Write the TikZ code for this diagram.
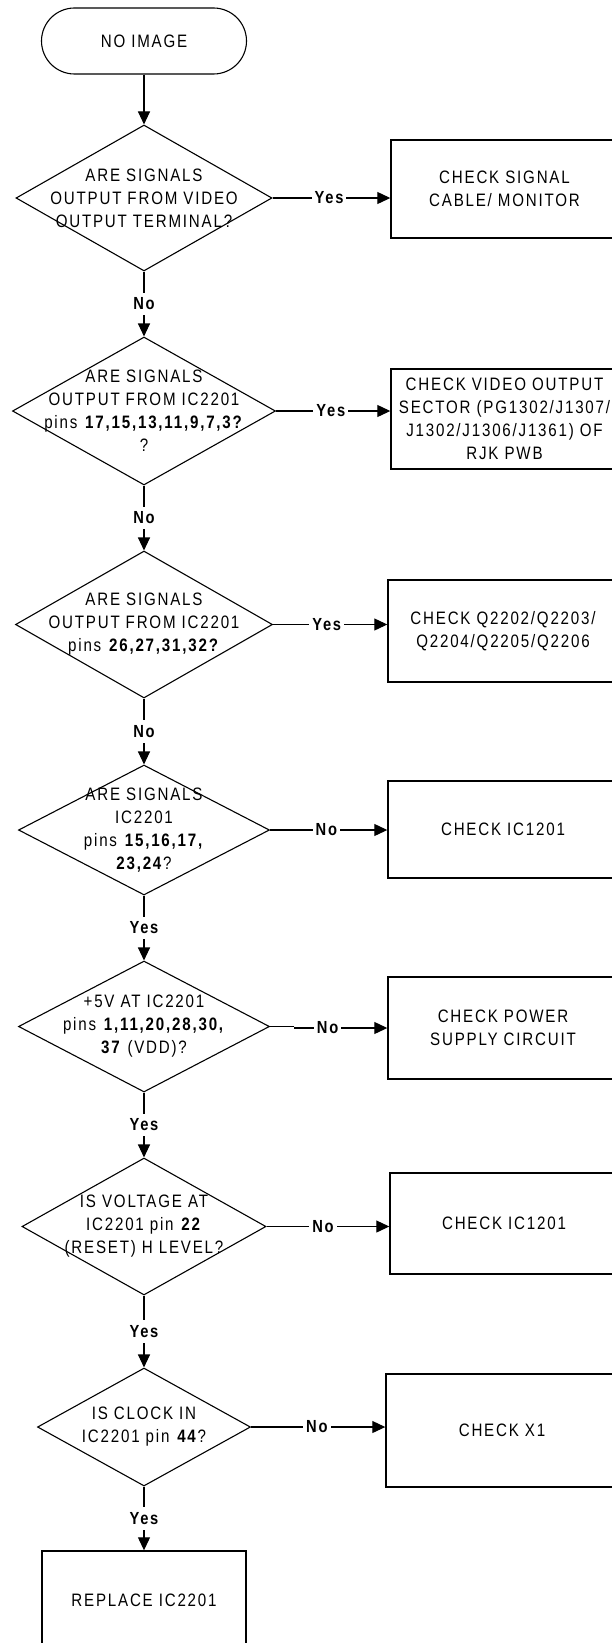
\documentclass[tikz,border=0pt]{standalone}
\usepackage{fontspec}
\setmainfont{Liberation Sans}[FakeStretch=0.84, LetterSpace=10]
\usetikzlibrary{shapes.geometric,arrows.meta}
\newcommand{\mainf}{\fontsize{18}{23}\selectfont}
\newcommand{\lblf}{\bfseries\fontsize{17.5}{20}\selectfont}
\begin{document}
\begin{tikzpicture}[x=1pt,y=-1pt,
  ln/.style={line width=1.1pt},
  dia/.style={draw, diamond, inner sep=0pt, line width=1.1pt},
  boxs/.style={draw, rectangle, line width=1.4pt, inner sep=0pt, align=center, font=\mainf},
  term/.style={draw, rectangle, rounded corners=33pt, line width=1.1pt, minimum width=205pt, minimum height=66pt, font=\mainf},
  txt/.style={align=center, inner sep=0pt, font=\mainf},
  lbl/.style={fill=white, inner xsep=3pt, inner ysep=5pt, font=\lblf},
  arr/.style={ln, -{Triangle[length=13pt,width=12pt]}}
]
\useasboundingbox (0,0) rectangle (611,1643);

% main column
\node[term] (t) at (144,41) {NO IMAGE};

\node[dia, minimum width=256pt, minimum height=146pt] (d1) at (144,198) {};
\node[txt] (d1t) at (d1.center) {ARE SIGNALS\\OUTPUT FROM VIDEO\\OUTPUT TERMINAL?};

\node[dia, minimum width=263pt, minimum height=148pt] (d2) at (144,411) {};
\node[txt] (d2t) at (d2.center) {ARE SIGNALS\\OUTPUT FROM IC2201\\pins \textbf{17,15,13,11,9,7,3?}\\?};

\node[dia, minimum width=257pt, minimum height=147pt] (d3) at (144,624.5) {};
\node[txt] (d3t) at (d3.center) {ARE SIGNALS\\OUTPUT FROM IC2201\\pins \textbf{26,27,31,32?}};

\node[dia, minimum width=251pt, minimum height=130pt] (d4) at (144,830) {};
\node[txt] (d4t) at (d4.center) {ARE SIGNALS\\IC2201\\pins \textbf{15,16,17,}\\\textbf{23,24}?};

\node[dia, minimum width=251pt, minimum height=131pt] (d5) at (144,1026.5) {};
\node[txt] (d5t) at (d5.center) {+5V AT IC2201\\pins \textbf{1,11,20,28,30,}\\\textbf{37} (VDD)?};

\node[dia, minimum width=244pt, minimum height=137pt] (d6) at (144,1226.5) {};
\node[txt] (d6t) at (d6.center) {IS VOLTAGE AT\\IC2201 pin \textbf{22}\\(RESET) H LEVEL?};

\node[dia, minimum width=213pt, minimum height=118pt] (d7) at (144,1427) {};
\node[txt] (d7t) at (d7.center) {IS CLOCK IN\\IC2201 pin \textbf{44}?};

\node[boxs, minimum width=204pt, minimum height=98pt] (rep) at (144,1600) {REPLACE IC2201};

% right column
\node[boxs, minimum width=227pt, minimum height=98pt] (b1) at (504.5,189) {CHECK SIGNAL\\CABLE/ MONITOR};
\node[boxs, minimum width=227pt, minimum height=100pt] (b2) at (504.5,419) {CHECK VIDEO OUTPUT\\SECTOR (PG1302/J1307/\\J1302/J1306/J1361) OF\\RJK PWB};
\node[boxs, minimum width=230pt, minimum height=102pt] (b3) at (503,631) {CHECK Q2202/Q2203/\\Q2204/Q2205/Q2206};
\node[boxs, minimum width=230pt, minimum height=97pt] (b4) at (503,829.5) {CHECK IC1201};
\node[boxs, minimum width=230pt, minimum height=102pt] (b5) at (503,1028) {CHECK POWER\\SUPPLY CIRCUIT};
\node[boxs, minimum width=228pt, minimum height=101pt] (b6) at (504,1223.5) {CHECK IC1201};
\node[boxs, minimum width=232pt, minimum height=113pt] (b7) at (502,1430.5) {CHECK X1};

% vertical connectors
\draw[arr] (t.south) -- (d1.north);
\draw[arr] (d1.south) -- node[lbl] (l1) {No} (d2.north);
\draw[arr] (d2.south) -- node[lbl] (l2) {No} (d3.north);
\draw[arr] (d3.south) -- node[lbl] (l3) {No} (d4.north);
\draw[arr] (d4.south) -- node[lbl] (l4) {Yes} (d5.north);
\draw[arr] (d5.south) -- node[lbl] (l5) {Yes} (d6.north);
\draw[arr] (d6.south) -- node[lbl] (l6) {Yes} (d7.north);
\draw[arr] (d7.south) -- node[lbl] (l7) {Yes} (rep.north);

% horizontal connectors
\draw[arr] (d1.east) -- node[lbl, pos=0.48] (h1) {Yes} (d1.east -| b1.west);
\draw[arr] (d2.east) -- node[lbl, pos=0.48] (h2) {Yes} (d2.east -| b2.west);
\draw[arr] (d3.east) -- node[lbl, pos=0.47] (h3) {Yes} (d3.east -| b3.west);
\draw[arr] (d4.east) -- node[lbl, pos=0.48] (h4) {No} (d4.east -| b4.west);
\draw[ln] (d5.east) -- ++(24,0) coordinate (j5);
\draw[arr] (j5) |- node[lbl, pos=0.68] (h5) {No} (b5.west);
\draw[arr] (d6.east) -- node[lbl, pos=0.46] (h6) {No} (d6.east -| b6.west);
\draw[arr] (d7.east) -- node[lbl, pos=0.49] (h7) {No} (d7.east -| b7.west);
\end{tikzpicture}
\end{document}
